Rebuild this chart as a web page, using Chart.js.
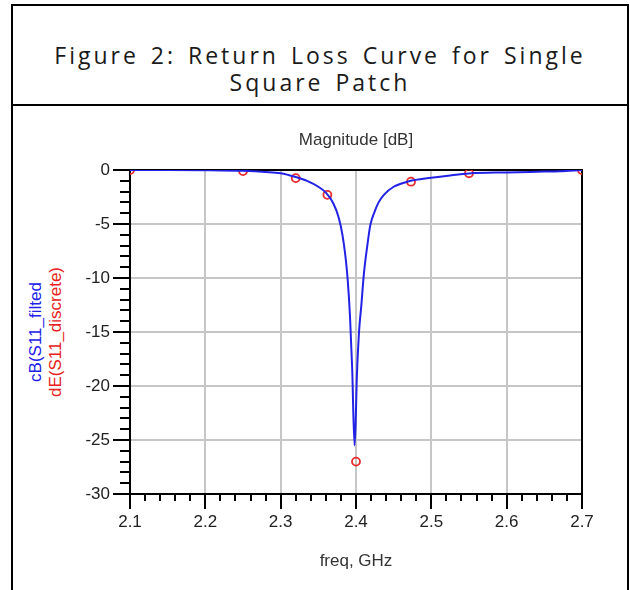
<!DOCTYPE html>
<html>
<head>
<meta charset="utf-8">
<script src="https://cdn.jsdelivr.net/npm/chart.js@4/dist/chart.umd.min.js"></script>
<style>
  html, body { margin: 0; padding: 0; background: #fff; }
  body { width: 630px; height: 590px; position: relative; overflow: hidden; font-family: "Liberation Sans", Arial, sans-serif; }
  #frame { position: absolute; left: 11px; top: 4px; width: 618px; height: 640px; border: 2px solid #000; border-bottom: none; box-sizing: border-box; }
  #divider { position: absolute; left: 11px; top: 104px; width: 618px; height: 2px; background: #000; }
  #caption { position: absolute; left: 13px; top: 42px; width: 614px; text-align: center; font-family: "Open Sans", sans-serif; font-size: 23px; line-height: 27px; letter-spacing: 3px; word-spacing: 3px; color: #1a1a1a; }
  #ylabel { position: absolute; left: -54px; top: 312px; width: 200px; height: 40px; transform: rotate(-90deg); text-align: center; font-size: 17px; line-height: 20px; }
  #ylabel .a { color: #2020e8; }
  #ylabel .b { color: #e82020; }
  #chart { position: absolute; left: 0; top: 0; }
</style>
</head>
<body>
<div id="frame"></div>
<div id="divider"></div>
<div id="caption">Figure 2: Return Loss Curve for Single<br>Square Patch</div>
<div id="ylabel"><div class="a">cB(S11_filted</div><div class="b">dE(S11_discrete)</div></div>
<canvas id="chart" width="630" height="590"></canvas>
<script>
// axis ticks
const freqTicks = [2.1, 2.2, 2.3, 2.4, 2.5, 2.6, 2.7];
const dbTicks = [0, -5, -10, -15, -20, -25, -30];

// S11 filtered curve (blue)
const filteredFreq = [2.100, 2.150, 2.200, 2.250, 2.280, 2.300, 2.320, 2.335, 2.350, 2.360,
  2.370, 2.377, 2.382, 2.386, 2.389, 2.392, 2.395, 2.398, 2.3995, 2.401,
  2.404, 2.407, 2.4105, 2.415, 2.419, 2.425, 2.430, 2.437, 2.450, 2.470,
  2.500, 2.525, 2.550, 2.600, 2.650, 2.670, 2.700];
const filteredDb = [0, 0, -0.02, -0.08, -0.18, -0.3, -0.65, -1.0, -1.55, -2.1,
  -3.1, -4.4, -6.0, -8.0, -10.2, -13.5, -18.5, -25.5, -23.5, -19.4,
  -15.0, -12.6, -9.6, -7.0, -5.1, -3.8, -3.0, -2.3, -1.55, -1.05,
  -0.72, -0.5, -0.32, -0.22, -0.15, -0.12, 0];

// S11 discrete samples (red circles)
const discreteFreq = [2.10, 2.25, 2.32, 2.362, 2.40, 2.473, 2.55, 2.70];
const discreteDb = [0, -0.1, -0.75, -2.3, -27.0, -1.08, -0.3, 0];

const tickFont = { family: '"Liberation Sans", Arial, sans-serif', size: 17 };

// plot frame + minor ticks, ADS style
const axisDecor = {
  id: 'axisDecor',
  beforeDatasetsDraw(chart) {
    const { ctx, chartArea: a, scales: { x, y } } = chart;
    ctx.save();
    ctx.strokeStyle = '#000';
    ctx.lineWidth = 2;
    ctx.strokeRect(a.left, a.top, a.right - a.left, a.bottom - a.top);
    ctx.beginPath();
    for (let i = 0; i <= 30; i++) {
      if (i % 5 === 0) continue;
      const px = Math.round(x.getPixelForValue(2.1 + i * 0.02));
      ctx.moveTo(px, a.bottom);
      ctx.lineTo(px, a.bottom + 7);
    }
    for (let d = -1; d > -30; d--) {
      if (d % 5 === 0) continue;
      const py = Math.round(y.getPixelForValue(d));
      ctx.moveTo(a.left - 10, py);
      ctx.lineTo(a.left, py);
    }
    ctx.stroke();
    ctx.restore();
  }
};

window.addEventListener('load', () => {
  const ctx = document.getElementById('chart').getContext('2d');
  new Chart(ctx, {
    type: 'line',
    data: {
      datasets: [
        {
          label: 'discrete',
          data: discreteFreq.map((f, i) => ({ x: f, y: discreteDb[i] })),
          showLine: false,
          pointRadius: 4,
          pointBorderWidth: 1.8,
          pointBorderColor: '#e82a2a',
          pointBackgroundColor: 'rgba(0,0,0,0)',
          order: 1
        },
        {
          label: 'filtered',
          data: filteredFreq.map((f, i) => ({ x: f, y: filteredDb[i] })),
          borderColor: '#2222e6',
          borderWidth: 2,
          pointRadius: 0,
          cubicInterpolationMode: 'monotone',
          order: 0
        }
      ]
    },
    options: {
      responsive: false,
      animation: false,
      devicePixelRatio: 1,
      layout: { padding: { top: 110, left: 0, right: 48, bottom: 0 } },
      plugins: {
        legend: { display: false },
        tooltip: { enabled: false }
      },
      scales: {
        x: {
          type: 'linear',
          min: 2.1,
          max: 2.7,
          afterBuildTicks: s => { s.ticks = freqTicks.map(v => ({ value: v })); },
          afterFit: s => { s.height = 96; },
          ticks: { callback: v => v.toFixed(1), font: tickFont, color: '#222', padding: 3, maxRotation: 0 },
          grid: { color: '#c6c6c6', lineWidth: 2, tickLength: 15, tickColor: '#000', tickWidth: 2 },
          border: { display: true, color: '#000', width: 2 },
          title: {
            display: true,
            text: 'freq, GHz',
            color: '#333',
            font: tickFont,
            padding: { top: 4, bottom: 18 }
          }
        },
        // top axis only carries the plot title, centred over the plot
        xTop: {
          type: 'linear',
          position: 'top',
          min: 2.1,
          max: 2.7,
          afterFit: s => { s.height = 60; },
          ticks: { display: false },
          grid: { display: false, drawTicks: false },
          border: { display: false },
          title: {
            display: true,
            text: 'Magnitude [dB]',
            color: '#333',
            font: tickFont,
            padding: { top: 20, bottom: 0 }
          }
        },
        y: {
          min: -30,
          max: 0,
          afterBuildTicks: s => { s.ticks = dbTicks.map(v => ({ value: v })); },
          afterFit: s => { s.width = 130; },
          ticks: { callback: v => String(v), font: tickFont, color: '#222', padding: 3 },
          grid: { color: '#c6c6c6', lineWidth: 2, tickLength: 17, tickColor: '#000', tickWidth: 2 },
          border: { display: true, color: '#000', width: 2 }
        }
      }
    },
    plugins: [axisDecor]
  });
});
</script>
</body>
</html>
